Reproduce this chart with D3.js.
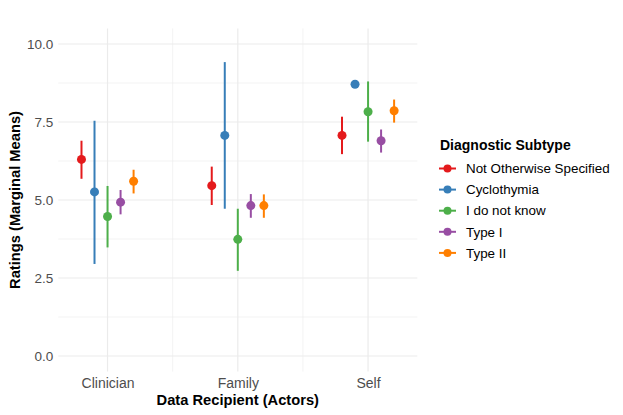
<!DOCTYPE html>
<html>
<head>
<meta charset="utf-8">
<script src="https://cdn.jsdelivr.net/npm/d3@7"></script>
<style>
  body { margin:0; background:#fff; }
  text { font-family: "Liberation Sans", Arial, sans-serif; }
</style>
</head>
<body>
<svg id="chart" width="623" height="415"></svg>
<script>
const recipients = ['Clinician','Family','Self'];
const subtypes = ['Not Otherwise Specified','Cyclothymia','I do not know','Type I','Type II'];
const colors = ['#E41A1C','#377EB8','#4DAF4A','#984EA3','#FF7F00'];
// marginal means, rows = subtypes, cols = recipients
const means = [
  [6.30, 5.46, 7.07],
  [5.26, 7.07, 8.71],
  [4.47, 3.74, 7.83],
  [4.93, 4.82, 6.90],
  [5.60, 4.82, 7.86]
];
const lower = [
  [5.68, 4.84, 6.47],
  [2.95, 4.72, 8.71],
  [3.48, 2.73, 6.87],
  [4.54, 4.43, 6.52],
  [5.21, 4.43, 7.48]
];
const upper = [
  [6.90, 6.07, 7.67],
  [7.54, 9.42, 8.71],
  [5.45, 4.72, 8.80],
  [5.32, 5.19, 7.26],
  [5.97, 5.18, 8.22]
];
const yTicks = [0, 2.5, 5, 7.5, 10];

const svg = d3.select('#chart');
const panel = { left:58.3, right:417.3, top:28.4, bottom:371.6 };

const x = d3.scaleLinear().domain([0.622, 3.378]).range([panel.left, panel.right]);
const y = d3.scaleLinear().domain([0, 10]).range([356, 44]);
const dodge = d3.scalePoint().domain(subtypes).range([-0.2, 0.2]);

// grid
const grid = svg.append('g');
const minorY = d3.range(1.25, 10.5, 2.5);
grid.selectAll('line.minory').data(minorY).join('line')
  .attr('x1', panel.left).attr('x2', panel.right)
  .attr('y1', d=>y(d)).attr('y2', d=>y(d))
  .attr('stroke','#ebebeb').attr('stroke-width',0.6);
grid.selectAll('line.minorx').data([1.5, 2.5]).join('line')
  .attr('y1', panel.top).attr('y2', panel.bottom)
  .attr('x1', d=>x(d)).attr('x2', d=>x(d))
  .attr('stroke','#ebebeb').attr('stroke-width',0.6);
grid.selectAll('line.majory').data(yTicks).join('line')
  .attr('x1', panel.left).attr('x2', panel.right)
  .attr('y1', d=>y(d)).attr('y2', d=>y(d))
  .attr('stroke','#ebebeb').attr('stroke-width',1.2);
grid.selectAll('line.majorx').data([1,2,3]).join('line')
  .attr('y1', panel.top).attr('y2', panel.bottom)
  .attr('x1', d=>x(d)).attr('x2', d=>x(d))
  .attr('stroke','#ebebeb').attr('stroke-width',1.2);

// axes
const yAxis = svg.append('g').attr('transform', `translate(${panel.left},0)`)
  .call(d3.axisLeft(y).tickValues(yTicks).tickFormat(d3.format('.1f')).tickSize(0).tickPadding(5));
yAxis.select('.domain').remove();
yAxis.selectAll('text').attr('fill','#4d4d4d').style('font-size','13.5px');

const xAxis = svg.append('g').attr('transform', `translate(0,${panel.bottom})`)
  .call(d3.axisBottom(x).tickValues([1,2,3]).tickFormat((d,i)=>recipients[i]).tickSize(0).tickPadding(6.5));
xAxis.select('.domain').remove();
xAxis.selectAll('text').attr('fill','#4d4d4d').style('font-size','14px');

svg.append('text').attr('x', (panel.left+panel.right)/2).attr('y', 404.5)
  .attr('text-anchor','middle').style('font-size','14.7px').style('font-weight','bold')
  .text('Data Recipient (Actors)');
svg.append('text').attr('transform', `translate(19.5,${(panel.top+panel.bottom)/2}) rotate(-90)`)
  .attr('text-anchor','middle').style('font-size','14.7px').style('font-weight','bold')
  .text('Ratings (Marginal Means)');

// point ranges
const rows = [];
subtypes.forEach((s,i)=> recipients.forEach((r,j)=> rows.push({
  s, i, j, m: means[i][j], lo: lower[i][j], hi: upper[i][j]
})));
const pr = svg.append('g').selectAll('g').data(rows).join('g');
pr.append('line')
  .attr('x1', d=>x(d.j+1+dodge(d.s))).attr('x2', d=>x(d.j+1+dodge(d.s)))
  .attr('y1', d=>y(d.lo)).attr('y2', d=>y(d.hi))
  .attr('stroke', d=>colors[d.i]).attr('stroke-width',2);
pr.append('circle')
  .attr('cx', d=>x(d.j+1+dodge(d.s))).attr('cy', d=>y(d.m))
  .attr('r',4.5).attr('fill', d=>colors[d.i]);

// legend
const lg = svg.append('g').attr('transform','translate(438,0)');
lg.append('text').attr('x',2).attr('y',150).style('font-size','14px').style('font-weight','bold')
  .text('Diagnostic Subtype');
const item = lg.selectAll('g.item').data(subtypes).join('g')
  .attr('transform', (d,i)=>`translate(0,${168.5 + i*21.1})`);
item.append('line').attr('x1',1).attr('x2',18).attr('stroke',(d,i)=>colors[i]).attr('stroke-width',2);
item.append('circle').attr('cx',9.5).attr('r',4).attr('fill',(d,i)=>colors[i]);
item.append('text').attr('x',28).attr('dy','0.35em').style('font-size','13.4px').attr('fill','#000')
  .text(d=>d);
</script>
</body>
</html>
